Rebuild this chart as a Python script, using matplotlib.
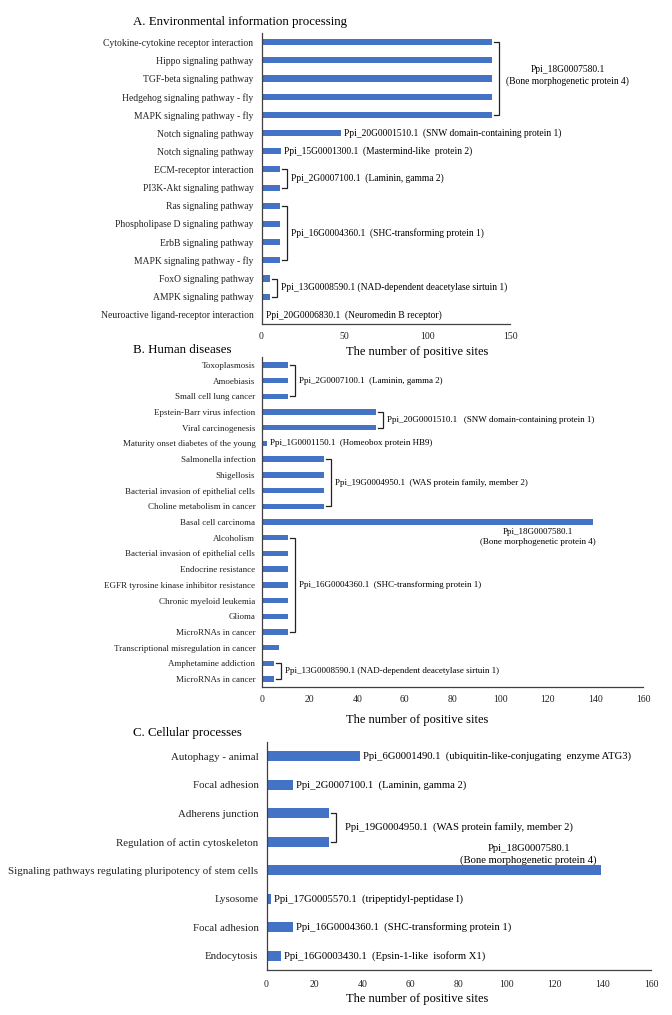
import matplotlib.pyplot as plt

plt.rcParams['font.family'] = ['Liberation Serif', 'DejaVu Serif']

W, H = 672, 1015
BAR_COLOR = '#4472C4'
AX_COLOR = '#404040'

# A. Environmental information processing
a_cats = ["Cytokine-cytokine receptor interaction", "Hippo signaling pathway",
          "TGF-beta signaling pathway", "Hedgehog signaling pathway - fly",
          "MAPK signaling pathway - fly", "Notch signaling pathway",
          "Notch signaling pathway", "ECM-receptor interaction",
          "PI3K-Akt signaling pathway", "Ras signaling pathway",
          "Phospholipase D signaling pathway", "ErbB signaling pathway",
          "MAPK signaling pathway - fly", "FoxO signaling pathway",
          "AMPK signaling pathway", "Neuroactive ligand-receptor interaction"]
a_vals = [139, 139, 139, 139, 139, 48, 12, 11, 11, 11, 11, 11, 11, 5, 5, 1]
a_groups = [(0, 4, "Ppi_18G0007580.1\n(Bone morphogenetic protein 4)"),
            (5, 5, "Ppi_20G0001510.1  (SNW domain-containing protein 1)"),
            (6, 6, "Ppi_15G0001300.1  (Mastermind-like  protein 2)"),
            (7, 8, "Ppi_2G0007100.1  (Laminin, gamma 2)"),
            (9, 12, "Ppi_16G0004360.1  (SHC-transforming protein 1)"),
            (13, 14, "Ppi_13G0008590.1 (NAD-dependent deacetylase sirtuin 1)"),
            (15, 15, "Ppi_20G0006830.1  (Neuromedin B receptor)")]

# B. Human diseases
b_cats = ["Toxoplasmosis", "Amoebiasis", "Small cell lung cancer",
          "Epstein-Barr virus infection", "Viral carcinogenesis",
          "Maturity onset diabetes of the young", "Salmonella infection",
          "Shigellosis", "Bacterial invasion of epithelial cells",
          "Choline metabolism in cancer", "Basal cell carcinoma", "Alcoholism",
          "Bacterial invasion of epithelial cells", "Endocrine resistance",
          "EGFR tyrosine kinase inhibitor resistance", "Chronic myeloid leukemia",
          "Glioma", "MicroRNAs in cancer", "Transcriptional misregulation in cancer",
          "Amphetamine addiction", "MicroRNAs in cancer"]
b_vals = [11, 11, 11, 48, 48, 2, 26, 26, 26, 26, 139,
          11, 11, 11, 11, 11, 11, 11, 7, 5, 5]
b_groups = [(0, 2, "Ppi_2G0007100.1  (Laminin, gamma 2)"),
            (3, 4, "Ppi_20G0001510.1   (SNW domain-containing protein 1)"),
            (5, 5, "Ppi_1G0001150.1  (Homeobox protein HB9)"),
            (6, 9, "Ppi_19G0004950.1  (WAS protein family, member 2)"),
            (10, 10, "Ppi_18G0007580.1\n(Bone morphogenetic protein 4)"),
            (11, 17, "Ppi_16G0004360.1  (SHC-transforming protein 1)"),
            (19, 20, "Ppi_13G0008590.1 (NAD-dependent deacetylase sirtuin 1)")]

# C. Cellular processes
c_cats = ["Autophagy - animal", "Focal adhesion", "Adherens junction",
          "Regulation of actin cytoskeleton",
          "Signaling pathways regulating pluripotency of stem cells",
          "Lysosome", "Focal adhesion", "Endocytosis"]
c_vals = [39, 11, 26, 26, 139, 2, 11, 6]
c_groups = [(0, 0, "Ppi_6G0001490.1  (ubiquitin-like-conjugating  enzyme ATG3)"),
            (1, 1, "Ppi_2G0007100.1  (Laminin, gamma 2)"),
            (2, 3, "Ppi_19G0004950.1  (WAS protein family, member 2)"),
            (4, 4, "Ppi_18G0007580.1\n(Bone morphogenetic protein 4)"),
            (5, 5, "Ppi_17G0005570.1  (tripeptidyl-peptidase I)"),
            (6, 6, "Ppi_16G0004360.1  (SHC-transforming protein 1)"),
            (7, 7, "Ppi_16G0003430.1  (Epsin-1-like  isoform X1)")]

fig = plt.figure(figsize=(W / 100, H / 100), dpi=100)


def make_axes(left, right, top, bottom):
    # pixel box -> figure fraction
    return fig.add_axes([left / W, 1 - bottom / H, (right - left) / W, (bottom - top) / H])


def draw_panel(ax, cats, vals, groups, xmax, xticks, label_fs, ann_fs, pad,
               xpad, text_gap, special):
    n = len(cats)
    y = list(range(n))
    ax.barh(y, vals, height=0.34, color=BAR_COLOR)
    ax.set_xlim(0, xmax)
    ax.set_ylim(n - 0.5, -0.5)
    ax.set_yticks(y)
    ax.set_yticklabels(cats, fontsize=label_fs)
    ax.set_xticks(xticks)
    ax.tick_params(axis='x', length=0, labelsize=7.0, pad=xpad, colors='#222222')
    ax.tick_params(axis='y', length=0, pad=pad, colors='#222222')
    for s in ['top', 'right']:
        ax.spines[s].set_visible(False)
    for s in ['left', 'bottom']:
        ax.spines[s].set_color(AX_COLOR)
        ax.spines[s].set_linewidth(0.9)

    # pixels -> data units along x
    px = xmax / (ax.get_position().width * W)
    dx, dy, ls = special

    for i0, i1, text in groups:
        vmax = max(vals[i0:i1 + 1])
        two_line = '\n' in text
        if i0 == i1:
            if two_line:
                ax.text(vmax + dx * px, i0 + dy, text, fontsize=ann_fs,
                        ha='center', va='center', multialignment='center',
                        linespacing=ls, clip_on=False)
            else:
                ax.text(vmax + 3 * px, i0, text, fontsize=ann_fs, va='center',
                        clip_on=False)
            continue
        xv = vmax + 7 * px
        xt = vmax + 2 * px
        ax.plot([xt, xv, xv, xt], [i0, i0, i1, i1], color='#222222', lw=0.9,
                clip_on=False, solid_joinstyle='miter')
        if two_line:
            ax.text(xv + dx * px, (i0 + i1) / 2 + dy, text, fontsize=ann_fs,
                    ha='center', va='center', multialignment='center',
                    linespacing=ls, clip_on=False)
        else:
            ax.text(xv + text_gap * px, (i0 + i1) / 2, text, fontsize=ann_fs,
                    va='center', clip_on=False)


ax_a = make_axes(261.5, 510, 33, 324)
draw_panel(ax_a, a_cats, a_vals, a_groups, 150, [0, 50, 100, 150],
           6.9, 6.85, 5.8, 6, 4, (69, -0.15, 1.35))

ax_b = make_axes(262, 643, 357, 687)
draw_panel(ax_b, b_cats, b_vals, b_groups, 160, list(range(0, 161, 20)),
           6.45, 6.45, 4.8, 6, 4, (-55, 0.96, 1.35))

ax_c = make_axes(266.5, 651, 742, 970)
draw_panel(ax_c, c_cats, c_vals, c_groups, 160, list(range(0, 161, 20)),
           7.8, 7.65, 5.8, 7.5, 9, (-72, -0.56, 1.4))

titles = [("A. Environmental information processing", 22),
          ("B. Human diseases", 350),
          ("C. Cellular processes", 733)]
for t, yp in titles:
    fig.text(133 / W, 1 - yp / H, t, fontsize=9.3, ha='left', va='center')

for yp in [352, 720, 999]:
    fig.text(417 / W, 1 - yp / H, "The number of positive sites", fontsize=9.0,
             ha='center', va='center')

fig.savefig('out.png', dpi=100)
